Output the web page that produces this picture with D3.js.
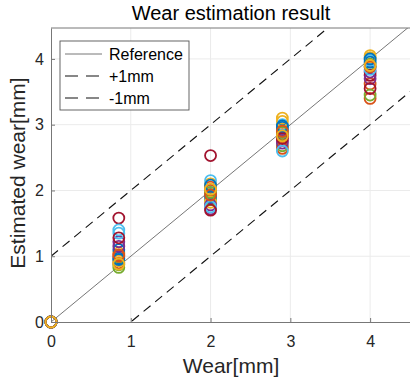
<!DOCTYPE html>
<html>
<head>
<meta charset="utf-8">
<script src="https://cdn.jsdelivr.net/npm/d3@7"></script>
<style>
  body { margin: 0; background: #fff; }
  text { font-family: "Liberation Sans", Arial, sans-serif; }
</style>
</head>
<body>
<div id="chart"></div>
<script>
// true wear positions (mm)
const wearTrue = [0, 0.85, 2, 2.9, 4];

// estimated wear for each run, one value per true wear position
const runs = [
  [0, 0.97, 1.95, 2.92, 3.88],
  [0, 0.90, 2.05, 2.85, 3.62],
  [0, 1.05, 2.10, 3.10, 4.05],
  [0, 1.22, 1.72, 2.76, 3.80],
  [0, 0.83, 1.86, 2.68, 3.92],
  [0, 1.35, 2.15, 3.00, 3.98],
  [0, 1.58, 2.53, 2.82, 3.75],
  [0, 1.10, 1.90, 2.96, 3.95],
  [0, 1.00, 2.00, 2.64, 3.40],
  [0, 0.93, 1.82, 3.05, 4.02],
  [0, 1.15, 1.78, 2.72, 3.70],
  [0, 0.87, 1.97, 2.88, 3.45],
  [0, 1.40, 1.75, 2.60, 3.84],
  [0, 1.28, 1.70, 2.79, 3.55],
  [0, 0.95, 2.08, 2.98, 4.00],
  [0, 1.02, 1.93, 2.90, 3.88],
  [0, 0.88, 2.02, 2.83, 3.90]
];

const colors = ['#0072BD', '#D95319', '#EDB120', '#7E2F8E', '#77AC30', '#4DBEEE', '#A2142F'];

const xTicks = [0, 1, 2, 3, 4];
const yTicks = [0, 1, 2, 3, 4];

const legendItems = [
  { label: 'Reference', offset: 0, dash: null, color: '#666' },
  { label: '+1mm', offset: 1, dash: '9,6', color: '#111' },
  { label: '-1mm', offset: -1, dash: '9,6', color: '#111' }
];

const W = 410, H = 382;
const margin = { top: 28, right: 0, bottom: 60, left: 51 };
const width = W - margin.left - margin.right;
const height = H - margin.top - margin.bottom;

const svg = d3.select('#chart').append('svg')
  .attr('width', W).attr('height', H);

const g = svg.append('g')
  .attr('transform', `translate(${margin.left},${margin.top})`);

const x = d3.scaleLinear().domain([0, 4.5]).range([0, width]);
const y = d3.scaleLinear().domain([0, 4.47]).range([height, 0]);

// grid
g.append('g').selectAll('line')
  .data(xTicks.slice(1))
  .join('line')
  .attr('x1', d => x(d)).attr('x2', d => x(d))
  .attr('y1', 0).attr('y2', height)
  .attr('stroke', '#ebebeb');

g.append('g').selectAll('line')
  .data(yTicks.slice(1))
  .join('line')
  .attr('x1', 0).attr('x2', width)
  .attr('y1', d => y(d)).attr('y2', d => y(d))
  .attr('stroke', '#ebebeb');

// clip
g.append('clipPath').attr('id', 'clip')
  .append('rect').attr('x', -8).attr('width', width + 8).attr('height', height + 8);

const lineClip = g.append('clipPath').attr('id', 'lclip')
  .append('rect').attr('width', width).attr('height', height);

const lines = g.append('g').attr('clip-path', 'url(#lclip)');
const plot = g.append('g').attr('clip-path', 'url(#clip)');

// reference lines
legendItems.forEach(it => {
  lines.append('line')
    .attr('x1', x(0)).attr('y1', y(0 + it.offset))
    .attr('x2', x(4.5)).attr('y2', y(4.5 + it.offset))
    .attr('stroke', it.color)
    .attr('stroke-width', it.dash ? 1.1 : 0.9)
    .attr('stroke-dasharray', it.dash);
});

// scatter points
runs.forEach((r, i) => {
  plot.append('g').selectAll('circle')
    .data(r.map((v, j) => ({ x: wearTrue[j], y: v })))
    .join('circle')
    .attr('cx', d => x(d.x))
    .attr('cy', d => y(d.y))
    .attr('r', 5.5)
    .attr('fill', 'none')
    .attr('stroke', colors[i % colors.length])
    .attr('stroke-width', 1.8);
});

// axes
const xAxis = g.append('g')
  .attr('transform', `translate(0,${height})`)
  .call(d3.axisBottom(x).tickValues(xTicks).tickFormat(d3.format('d'))
    .tickSizeInner(-4).tickSizeOuter(0).tickPadding(14));
const yAxis = g.append('g')
  .call(d3.axisLeft(y).tickValues(yTicks).tickFormat(d3.format('d'))
    .tickSizeInner(-4).tickSizeOuter(0).tickPadding(7));

[xAxis, yAxis].forEach(a => {
  a.select('.domain').attr('stroke', '#777');
  a.selectAll('.tick line').attr('stroke', '#777');
  a.selectAll('.tick text').attr('font-size', 16).attr('fill', '#262626')
    .style('font-family', '"Liberation Sans", Arial, sans-serif');
});

// top border
g.append('line')
  .attr('x1', 0).attr('x2', width).attr('y1', 0).attr('y2', 0)
  .attr('stroke', '#777');

// title and labels
svg.append('text')
  .attr('x', 231).attr('y', 20)
  .attr('text-anchor', 'middle')
  .attr('font-size', 20)
  .attr('fill', '#000')
  .text('Wear estimation result');

svg.append('text')
  .attr('x', 231).attr('y', 373)
  .attr('text-anchor', 'middle')
  .attr('font-size', 21)
  .attr('fill', '#262626')
  .text('Wear[mm]');

svg.append('text')
  .attr('transform', `translate(25,${margin.top + height / 2 - 2}) rotate(-90)`)
  .attr('text-anchor', 'middle')
  .attr('font-size', 21)
  .attr('fill', '#262626')
  .text('Estimated wear[mm]');

// legend
const lg = g.append('g').attr('transform', 'translate(9,13)');
lg.append('rect')
  .attr('width', 129).attr('height', 69)
  .attr('fill', '#fff').attr('stroke', '#555').attr('stroke-width', 0.9);

legendItems.forEach((it, i) => {
  const yy = 13 + i * 22;
  lg.append('line')
    .attr('x1', 5).attr('x2', 42).attr('y1', yy).attr('y2', yy)
    .attr('stroke', it.color)
    .attr('stroke-width', it.dash ? 1.1 : 0.9)
    .attr('stroke-dasharray', it.dash ? '13,8' : null);
  lg.append('text')
    .attr('x', 49).attr('y', yy + 6)
    .attr('font-size', 16)
    .attr('fill', '#000')
    .text(it.label);
});
</script>
</body>
</html>
